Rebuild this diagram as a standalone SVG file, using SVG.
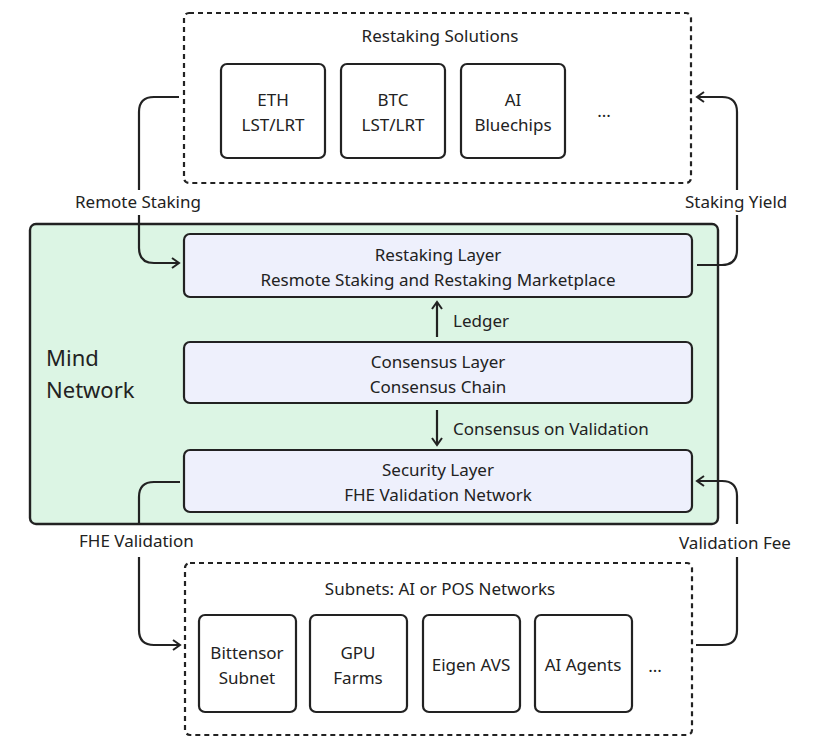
<svg xmlns="http://www.w3.org/2000/svg" width="819" height="746" viewBox="0 0 819 746">
<defs>
<style>
text{font-family:"Noto Sans","Open Sans","DejaVu Sans",sans-serif;fill:#222;}
.t{font-size:17px;text-anchor:middle;}
.l{font-size:17px;}
.box{fill:#fff;stroke:#222;stroke-width:2.2;}
.layer{fill:#eef0fc;stroke:#222;stroke-width:2.2;}
.dash{fill:none;stroke:#222;stroke-width:2.2;stroke-dasharray:5 4;}
.c{fill:none;stroke:#222;stroke-width:2.2;}
</style>
<marker id="ah" viewBox="0 0 12 12" refX="10" refY="6" markerWidth="12" markerHeight="12" markerUnits="userSpaceOnUse" orient="auto">
<path d="M3,1 L10,6 L3,11" fill="none" stroke="#222" stroke-width="2"/>
</marker>
</defs>
<rect width="819" height="746" fill="#fff"/>

<g id="restaking-solutions">
<rect class="dash" x="184" y="13" width="507" height="170" rx="5"/>
<text class="t" x="440" y="42">Restaking Solutions</text>
</g>
<g id="eth"><rect class="box" x="221" y="64" width="104" height="94" rx="6"/><text class="t" x="273" y="106">ETH</text><text class="t" x="273" y="131">LST/LRT</text></g>
<g id="btc"><rect class="box" x="341" y="64" width="104" height="94" rx="6"/><text class="t" x="393" y="106">BTC</text><text class="t" x="393" y="131">LST/LRT</text></g>
<g id="ai-bluechips"><rect class="box" x="461" y="64" width="104" height="94" rx="6"/><text class="t" x="513" y="106">AI</text><text class="t" x="513" y="131">Bluechips</text></g>
<g id="dots-top"><text class="t" x="604" y="117">...</text></g>

<g id="mind-network">
<rect x="30" y="224" width="688" height="300" rx="6" fill="#dcf5e4" stroke="#222" stroke-width="2.4"/>
<text x="46" y="366" style="font-size:22px">Mind</text>
<text x="46" y="398" style="font-size:22px">Network</text>
</g>
<g id="restaking-layer"><rect class="layer" x="184" y="234" width="508" height="63" rx="6"/><text class="t" x="438" y="261">Restaking Layer</text><text class="t" x="438" y="286">Resmote Staking and Restaking Marketplace</text></g>
<g id="consensus-layer"><rect class="layer" x="184" y="342" width="508" height="61" rx="6"/><text class="t" x="438" y="368">Consensus Layer</text><text class="t" x="438" y="393">Consensus Chain</text></g>
<g id="security-layer"><rect class="layer" x="184" y="450" width="508" height="62" rx="6"/><text class="t" x="438" y="476">Security Layer</text><text class="t" x="438" y="501">FHE Validation Network</text></g>

<g id="subnets">
<rect class="dash" x="185" y="563" width="507" height="172" rx="5"/>
<text class="t" x="440" y="595">Subnets: AI or POS Networks</text>
</g>
<g id="bittensor"><rect class="box" x="199" y="615" width="97" height="97" rx="6"/><text class="t" x="247" y="659">Bittensor</text><text class="t" x="247" y="684">Subnet</text></g>
<g id="gpu"><rect class="box" x="310" y="615" width="97" height="97" rx="6"/><text class="t" x="358" y="659">GPU</text><text class="t" x="358" y="684">Farms</text></g>
<g id="eigen"><rect class="box" x="423" y="615" width="97" height="97" rx="6"/><text class="t" x="471" y="671">Eigen AVS</text></g>
<g id="ai-agents"><rect class="box" x="535" y="615" width="97" height="97" rx="6"/><text class="t" x="583" y="671">AI Agents</text></g>
<g id="dots-bottom"><text class="t" x="655" y="672">...</text></g>

<g id="connectors">
<path class="c" d="M179,97 H154 Q139,97 139,112 V190"/>
<path class="c" d="M139,215 V248 Q139,263 154,263 H179" marker-end="url(#ah)"/>
<text class="l" x="75" y="208">Remote Staking</text>

<path class="c" d="M697,265 H722 Q737,265 737,250 V215"/>
<path class="c" d="M737,190 V112 Q737,97 722,97 H697" marker-end="url(#ah)"/>
<text class="l" x="685" y="208">Staking Yield</text>

<path class="c" d="M437,337 V302" marker-end="url(#ah)"/>
<text class="l" x="453" y="327">Ledger</text>
<path class="c" d="M437,410 V445" marker-end="url(#ah)"/>
<text class="l" x="453" y="435">Consensus on Validation</text>

<path class="c" d="M180,482 H154 Q139,482 139,497 V524"/>
<path class="c" d="M139,557 V630 Q139,645 154,645 H180" marker-end="url(#ah)"/>
<text class="l" x="79" y="547">FHE Validation</text>

<path class="c" d="M696,645 H722 Q737,645 737,630 V557"/>
<path class="c" d="M737,524 V496 Q737,481 722,481 H697" marker-end="url(#ah)"/>
<text class="l" x="679" y="549">Validation Fee</text>
</g>
</svg>
